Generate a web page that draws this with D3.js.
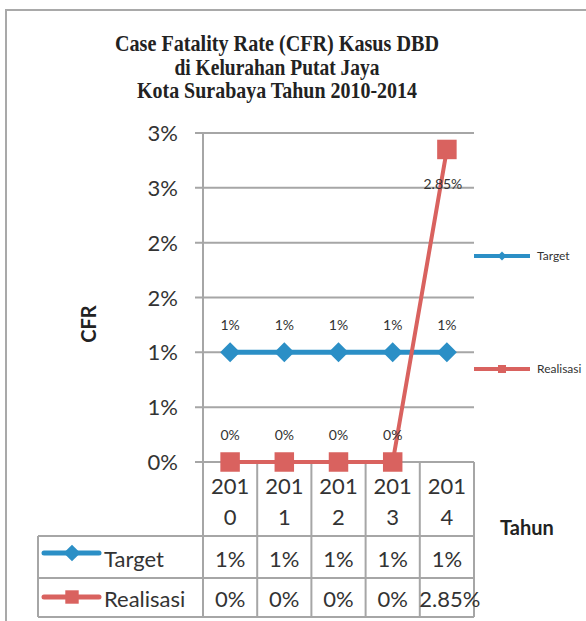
<!DOCTYPE html>
<html>
<head>
<meta charset="utf-8">
<script src="https://cdn.jsdelivr.net/npm/d3@7"></script>
<style>
    body { margin: 0; background: #fff; }
    svg { display: block; }
</style>
</head>
<body>
<div id="chart"></div>
<script>
const years = ["2010", "2011", "2012", "2013", "2014"];
const target = [1, 1, 1, 1, 1];
const realisasi = [0, 0, 0, 0, 2.85];
const yTicks = [0, 0.5, 1, 1.5, 2, 2.5, 3];
const yTickLabels = ["0%", "1%", "1%", "2%", "2%", "3%", "3%"];
const seriesNames = ["Target", "Realisasi"];
const titleLines = ["Case Fatality Rate (CFR) Kasus DBD", "di Kelurahan Putat Jaya", "Kota Surabaya Tahun 2010-2014"];

class CfrChart {
    constructor() {
        this.width = 586;
        this.height = 621;
        this.left = 203;
        this.right = 474;
        this.top = 133;
        this.bottom = 462;
        this.gridColor = "#a6a6a6";
        this.textColor = "#333";
        this.colors = ["#2b8fc6", "#d9625f"];
        this.font = "Lato, 'Open Sans', sans-serif";
        this.xScale = d3.scaleBand().domain(years).range([this.left, this.right]);
        this.yScale = d3.scaleLinear().domain([0, 3]).range([this.bottom, this.top]);
        this.series = [
            { name: seriesNames[0], values: target },
            { name: seriesNames[1], values: realisasi }
        ];
        this.drawPlot();
    }

    fmt(v) {
        return Number.isInteger(v) ? v + "%" : v.toFixed(2) + "%";
    }

    marker(sel, i, big) {
        if (i === 0) {
            sel.attr("d", d3.symbol().type(d3.symbolSquare).size(big ? 200 : 140)())
                .attr("transform", d => `${d} rotate(45)`);
        } else {
            sel.attr("d", d3.symbol().type(d3.symbolSquare).size(big ? 380 : 180)())
                .attr("transform", d => d);
        }
    }

    drawPlot() {
        let svg = d3.select("#chart")
            .append("svg")
            .attr("width", this.width)
            .attr("height", this.height);

        // outer frame
        svg.append("path")
            .attr("d", `M6,${this.height} L6,10 L${this.width},10`)
            .style("fill", "none")
            .style("stroke", "#a9a9a9")
            .style("stroke-width", "2px");

        // title
        let titleWidths = [324, 205, 280];
        svg.selectAll(".title")
            .data(titleLines)
            .join("text")
            .classed("title", true)
            .attr("x", (d, i) => 277 - titleWidths[i] / 2)
            .attr("y", (d, i) => 51 + i * 23.5)
            .attr("textLength", (d, i) => titleWidths[i])
            .attr("lengthAdjust", "spacingAndGlyphs")
            .text(d => d)
            .attr("font-family", "'Liberation Serif', 'Times New Roman', serif")
            .attr("font-size", "24px")
            .attr("font-weight", "bold")
            .attr("fill", "#222");

        // grid lines
        svg.selectAll(".grid")
            .data(yTicks)
            .join("line")
            .classed("grid", true)
            .attr("x1", this.left - 8)
            .attr("x2", this.right)
            .attr("y1", d => this.yScale(d))
            .attr("y2", d => this.yScale(d))
            .style("stroke", this.gridColor)
            .style("stroke-width", "2px");

        // y labels
        svg.selectAll(".yLabel")
            .data(yTicks)
            .join("text")
            .classed("yLabel", true)
            .attr("x", 178)
            .attr("y", d => this.yScale(d) + 8)
            .attr("text-anchor", "end")
            .text((d, i) => yTickLabels[i])
            .attr("font-family", this.font)
            .attr("font-size", "22px")
            .attr("fill", this.textColor);

        svg.append("text")
            .attr("transform", "translate(96,324) rotate(-90)")
            .attr("text-anchor", "middle")
            .text("CFR")
            .attr("font-family", this.font)
            .attr("font-size", "20px")
            .attr("font-weight", "bold")
            .attr("fill", "#222");

        // table lines
        let tableTop = 536, rowMid = 578, tableBottom = 617, tableLeft = 38;
        let edges = years.map(d => this.xScale(d)).concat([this.right]);
        svg.append("line")
            .attr("x1", this.left).attr("x2", this.left)
            .attr("y1", this.top).attr("y2", tableBottom)
            .style("stroke", this.gridColor).style("stroke-width", "2px");
        svg.selectAll(".colLine")
            .data(edges.slice(1))
            .join("line")
            .classed("colLine", true)
            .attr("x1", d => d).attr("x2", d => d)
            .attr("y1", this.bottom).attr("y2", tableBottom)
            .style("stroke", this.gridColor).style("stroke-width", "2px");
        svg.selectAll(".rowLine")
            .data([tableTop, rowMid, tableBottom])
            .join("line")
            .classed("rowLine", true)
            .attr("x1", tableLeft).attr("x2", this.right)
            .attr("y1", d => d).attr("y2", d => d)
            .style("stroke", this.gridColor).style("stroke-width", "2px");
        svg.append("line")
            .attr("x1", tableLeft).attr("x2", tableLeft)
            .attr("y1", tableTop).attr("y2", tableBottom)
            .style("stroke", this.gridColor).style("stroke-width", "2px");

        // category labels, wrapped like the original
        let cats = svg.selectAll(".cat")
            .data(years)
            .join("text")
            .classed("cat", true)
            .attr("text-anchor", "middle")
            .attr("font-family", this.font)
            .attr("font-size", "22px")
            .attr("fill", this.textColor);
        cats.append("tspan")
            .attr("x", d => this.xScale(d) + this.xScale.bandwidth() / 2)
            .attr("y", 494)
            .text(d => d.slice(0, 3));
        cats.append("tspan")
            .attr("x", d => this.xScale(d) + this.xScale.bandwidth() / 2)
            .attr("y", 525)
            .text(d => d.slice(3));

        svg.append("text")
            .attr("x", 500)
            .attr("y", 535)
            .text("Tahun")
            .attr("font-family", this.font)
            .attr("font-size", "20px")
            .attr("font-weight", "bold")
            .attr("fill", "#222");

        let line = d3.line()
            .x((d, i) => this.xScale(years[i]) + this.xScale.bandwidth() / 2)
            .y(d => this.yScale(d));

        let rowY = [553, 597];
        let rowText = [567, 607];
        let legendY = [256, 369];

        this.series.forEach((s, i) => {
            let color = this.colors[i];
            let cx = (d, j) => this.xScale(years[j]) + this.xScale.bandwidth() / 2;

            svg.append("path")
                .datum(s.values)
                .attr("d", line)
                .style("fill", "none")
                .style("stroke", color)
                .style("stroke-width", i === 0 ? "5px" : "4px");

            svg.selectAll(".pt" + i)
                .data(s.values.map((d, j) => `translate(${cx(d, j)},${this.yScale(d)})`))
                .join("path")
                .classed("pt" + i, true)
                .call(sel => this.marker(sel, i, true))
                .style("fill", color);

            // point labels
            svg.selectAll(".lbl" + i)
                .data(s.values)
                .join("text")
                .classed("lbl" + i, true)
                .attr("x", (d, j) => cx(d, j) - (d > 2 ? 4 : 0))
                .attr("y", d => d > 2 ? this.yScale(d) + 40 : this.yScale(d) - 22)
                .attr("text-anchor", "middle")
                .text(d => this.fmt(d))
                .attr("font-family", this.font)
                .attr("font-size", "14px")
                .attr("fill", this.textColor);

            // table row
            svg.append("line")
                .attr("x1", 44).attr("x2", 99)
                .attr("y1", rowY[i]).attr("y2", rowY[i])
                .style("stroke", color).style("stroke-width", "5px")
                .style("stroke-linecap", "round");
            svg.append("path")
                .datum(`translate(72,${rowY[i]})`)
                .call(sel => this.marker(sel, i, false))
                .style("fill", color);
            svg.append("text")
                .attr("x", 104)
                .attr("y", rowText[i])
                .text(s.name)
                .attr("font-family", this.font)
                .attr("font-size", "22px")
                .attr("fill", this.textColor);
            svg.selectAll(".cell" + i)
                .data(s.values)
                .join("text")
                .classed("cell" + i, true)
                .attr("x", (d, j) => cx(d, j) + (d > 2 ? 3 : 0))
                .attr("y", rowText[i])
                .attr("text-anchor", "middle")
                .text(d => this.fmt(d))
                .attr("font-family", this.font)
                .attr("font-size", "22px")
                .attr("fill", this.textColor);

            // side legend
            svg.append("line")
                .attr("x1", this.right).attr("x2", 530)
                .attr("y1", legendY[i]).attr("y2", legendY[i])
                .style("stroke", color).style("stroke-width", "4px");
            svg.append("path")
                .datum(`translate(502,${legendY[i]})`)
                .call(sel => sel.attr("d", d3.symbol().type(d3.symbolSquare).size(i === 0 ? 40 : 64)())
                    .attr("transform", d => i === 0 ? `${d} rotate(45)` : d))
                .style("fill", color);
            svg.append("text")
                .attr("x", 537)
                .attr("y", legendY[i] + 4)
                .text(s.name)
                .attr("font-family", this.font)
                .attr("font-size", "12px")
                .attr("fill", this.textColor);
        });
    }
}

new CfrChart();
</script>
</body>
</html>
